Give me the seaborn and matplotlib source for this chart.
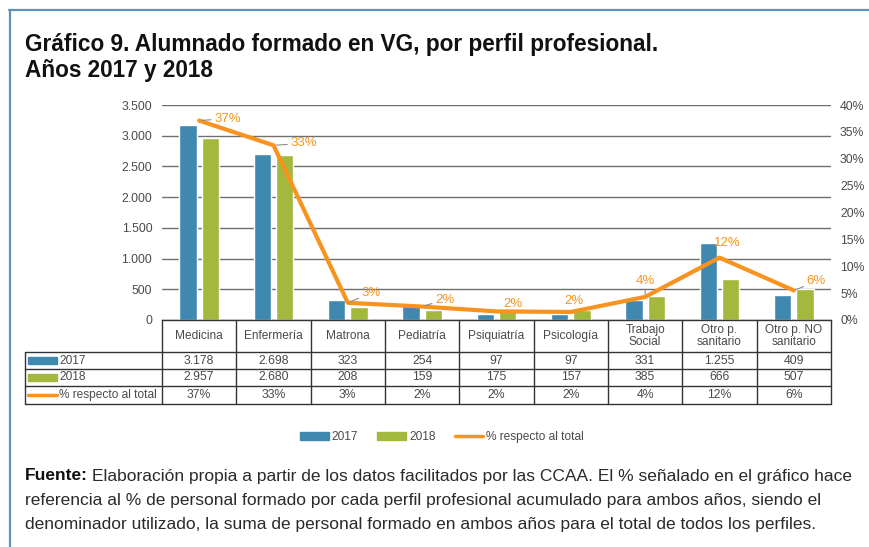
import numpy as np
import pandas as pd
import matplotlib.pyplot as plt
from matplotlib.lines import Line2D
from matplotlib.patches import Rectangle, Patch
import seaborn as sns

# datos del gráfico
categories = ['Medicina', 'Enfermería', 'Matrona', 'Pediatría', 'Psiquiatría',
              'Psicología', 'Trabajo\nSocial', 'Otro p.\nsanitario', 'Otro p. NO\nsanitario']
alumnos_2017 = [3178, 2698, 323, 254, 97, 97, 331, 1255, 409]
alumnos_2018 = [2957, 2680, 208, 159, 175, 157, 385, 666, 507]
pct_total = [37.1, 32.5, 3.2, 2.5, 1.6, 1.5, 4.3, 11.6, 5.5]
pct_labels = ['37%', '33%', '3%', '2%', '2%', '2%', '4%', '12%', '6%']
series_names = ['2017', '2018', '% respecto al total']

BLUE = '#3f88b0'
GREEN = '#a2b93e'
ORANGE = '#f7931e'
TXT = '#4a4a4a'
LINE = '#333333'
FONT = ['Liberation Sans', 'DejaVu Sans']

W, H = 870, 547


def fx(px):
    return px / W


def fy(py):
    return 1 - py / H


def fmt(v):
    return f'{v:,}'.replace(',', '.')


sns.set_style('white')
plt.rcParams['font.family'] = FONT

fig = plt.figure(figsize=(W / 100, H / 100), dpi=100)
fig.patch.set_facecolor('white')

# marco
fig.add_artist(Line2D([fx(9), fx(870)], [fy(10), fy(10)], color='#5f92b6', lw=1.6))
fig.add_artist(Line2D([fx(10), fx(10)], [fy(10), fy(547)], color='#5f92b6', lw=1.6))

# titulo
fig.text(fx(25), fy(44), 'Gráfico 9. Alumnado formado en VG, por perfil profesional.',
         fontsize=16.3, weight='bold', va='center', color='#111111')
fig.text(fx(25), fy(70), 'Años 2017 y 2018', fontsize=16.3, weight='bold',
         va='center', color='#111111')

# barras
ax = fig.add_axes([fx(162), fy(320), fx(831) - fx(162), fy(105) - fy(320)])
df = pd.DataFrame({
    'perfil': categories * 2,
    'anio': [series_names[0]] * len(categories) + [series_names[1]] * len(categories),
    'alumnos': alumnos_2017 + alumnos_2018,
})
sns.barplot(data=df, x='perfil', y='alumnos', hue='anio', palette=[BLUE, GREEN],
            width=0.6, gap=0.22, saturation=1, legend=False, ax=ax)
ax.set_xlim(-0.5, len(categories) - 0.5)
ax.set_ylim(0, 3500)
yt = np.arange(0, 3501, 500)
ax.set_yticks(yt)
ax.set_yticklabels([fmt(v) for v in yt])
ax.tick_params(axis='y', length=0, pad=7, labelsize=8.8, labelcolor=TXT)
ax.tick_params(axis='x', length=0, labelbottom=False)
ax.set_xlabel('')
ax.set_ylabel('')
ax.yaxis.grid(True, color='#6f6f6f', lw=1)
ax.set_axisbelow(True)
for s in ['top', 'left', 'right']:
    ax.spines[s].set_visible(False)
ax.spines['bottom'].set_color(LINE)
ax.spines['bottom'].set_linewidth(1)

# linea de porcentaje
ax2 = ax.twinx()
sns.lineplot(x=np.arange(len(categories)), y=pct_total, color=ORANGE, lw=3, ax=ax2)
ax2.set_ylim(0, 40)
pt = np.arange(0, 41, 5)
ax2.set_yticks(pt)
ax2.set_yticklabels([f'{v}%' for v in pt])
ax2.tick_params(axis='y', length=0, pad=6.5, labelsize=8.8, labelcolor=TXT)
for s in ax2.spines.values():
    s.set_visible(False)

# etiquetas de porcentaje (desplazamiento en px, alineación, guía)
lab_dx = [15, 17, 14, 13, 16, 3, 0, 8, 13]
lab_dy = [2, 2, 10, 7, 7, 11, 16, 15, 9]
lab_ha = ['left', 'left', 'left', 'left', 'center', 'center', 'center', 'center', 'left']
lab_lead = [True, True, True, True, False, False, True, False, True]
for i, txt in enumerate(pct_labels):
    arrow = dict(arrowstyle='-', color='#8a8a8a', lw=0.8, shrinkA=0, shrinkB=2) if lab_lead[i] else None
    ax2.annotate(txt, xy=(i, pct_total[i]), xytext=(lab_dx[i] * 0.72, lab_dy[i] * 0.72),
                 textcoords='offset points', ha=lab_ha[i], va='center',
                 fontsize=9.5, color=ORANGE, arrowprops=arrow)

# tabla de datos
col_edges = np.linspace(162, 831, len(categories) + 1)
row_edges = [320, 352, 369, 386, 404]
for yb in row_edges[1:]:
    fig.add_artist(Line2D([fx(25), fx(831)], [fy(yb), fy(yb)], color=LINE, lw=1))
for xb in col_edges:
    fig.add_artist(Line2D([fx(xb), fx(xb)], [fy(320), fy(404)], color=LINE, lw=1))
fig.add_artist(Line2D([fx(25), fx(25)], [fy(352), fy(404)], color=LINE, lw=1))

centers = (col_edges[:-1] + col_edges[1:]) / 2
for cx, name in zip(centers, categories):
    fig.text(fx(cx), fy(336), name, ha='center', va='center', fontsize=8.6,
             color=TXT, linespacing=1.0)

rows = [[fmt(v) for v in alumnos_2017], [fmt(v) for v in alumnos_2018], pct_labels]
for r, vals in enumerate(rows):
    cy = (row_edges[r + 1] + row_edges[r + 2]) / 2
    for cx, v in zip(centers, vals):
        fig.text(fx(cx), fy(cy), v, ha='center', va='center', fontsize=8.8, color=TXT)
    fig.text(fx(59), fy(cy), series_names[r], ha='left', va='center', fontsize=8.6, color=TXT)
    if r < 2:
        fig.add_artist(Rectangle((fx(28), fy(cy + 3.5)), fx(57) - fx(28), 7 / H,
                                 color=[BLUE, GREEN][r], transform=fig.transFigure))
    else:
        fig.add_artist(Line2D([fx(28), fx(57)], [fy(cy), fy(cy)], color=ORANGE, lw=2.5))

# leyenda
handles = [Patch(color=BLUE), Patch(color=GREEN), Line2D([], [], color=ORANGE, lw=2.5)]
fig.legend(handles, series_names, loc='center', bbox_to_anchor=(fx(442), fy(437)),
           ncol=3, frameon=False, fontsize=8.6, handlelength=2.4, handleheight=0.6,
           handletextpad=0.25, columnspacing=1.6, labelcolor=TXT)

# fuente
foot = [
    'Elaboración propia a partir de los datos facilitados por las CCAA. El % señalado en el gráfico hace',
    'referencia al % de personal formado por cada perfil profesional acumulado para ambos años, siendo el',
    'denominador utilizado, la suma de personal formado en ambos años para el total de todos los perfiles.',
]
fs = 12.55
t0 = fig.text(fx(25), fy(476), 'Fuente:', fontsize=fs, weight='bold', va='center', color='#111111')
r = fig.canvas.get_renderer()
bb = t0.get_window_extent(renderer=r)
fig.text(bb.x1 / W + fx(4), fy(476), foot[0], fontsize=fs, va='center', color='#2a2a2a')
fig.text(fx(25), fy(500), foot[1], fontsize=fs, va='center', color='#2a2a2a')
fig.text(fx(25), fy(524), foot[2], fontsize=fs, va='center', color='#2a2a2a')

fig.savefig('out.png', dpi=100, facecolor='white')
